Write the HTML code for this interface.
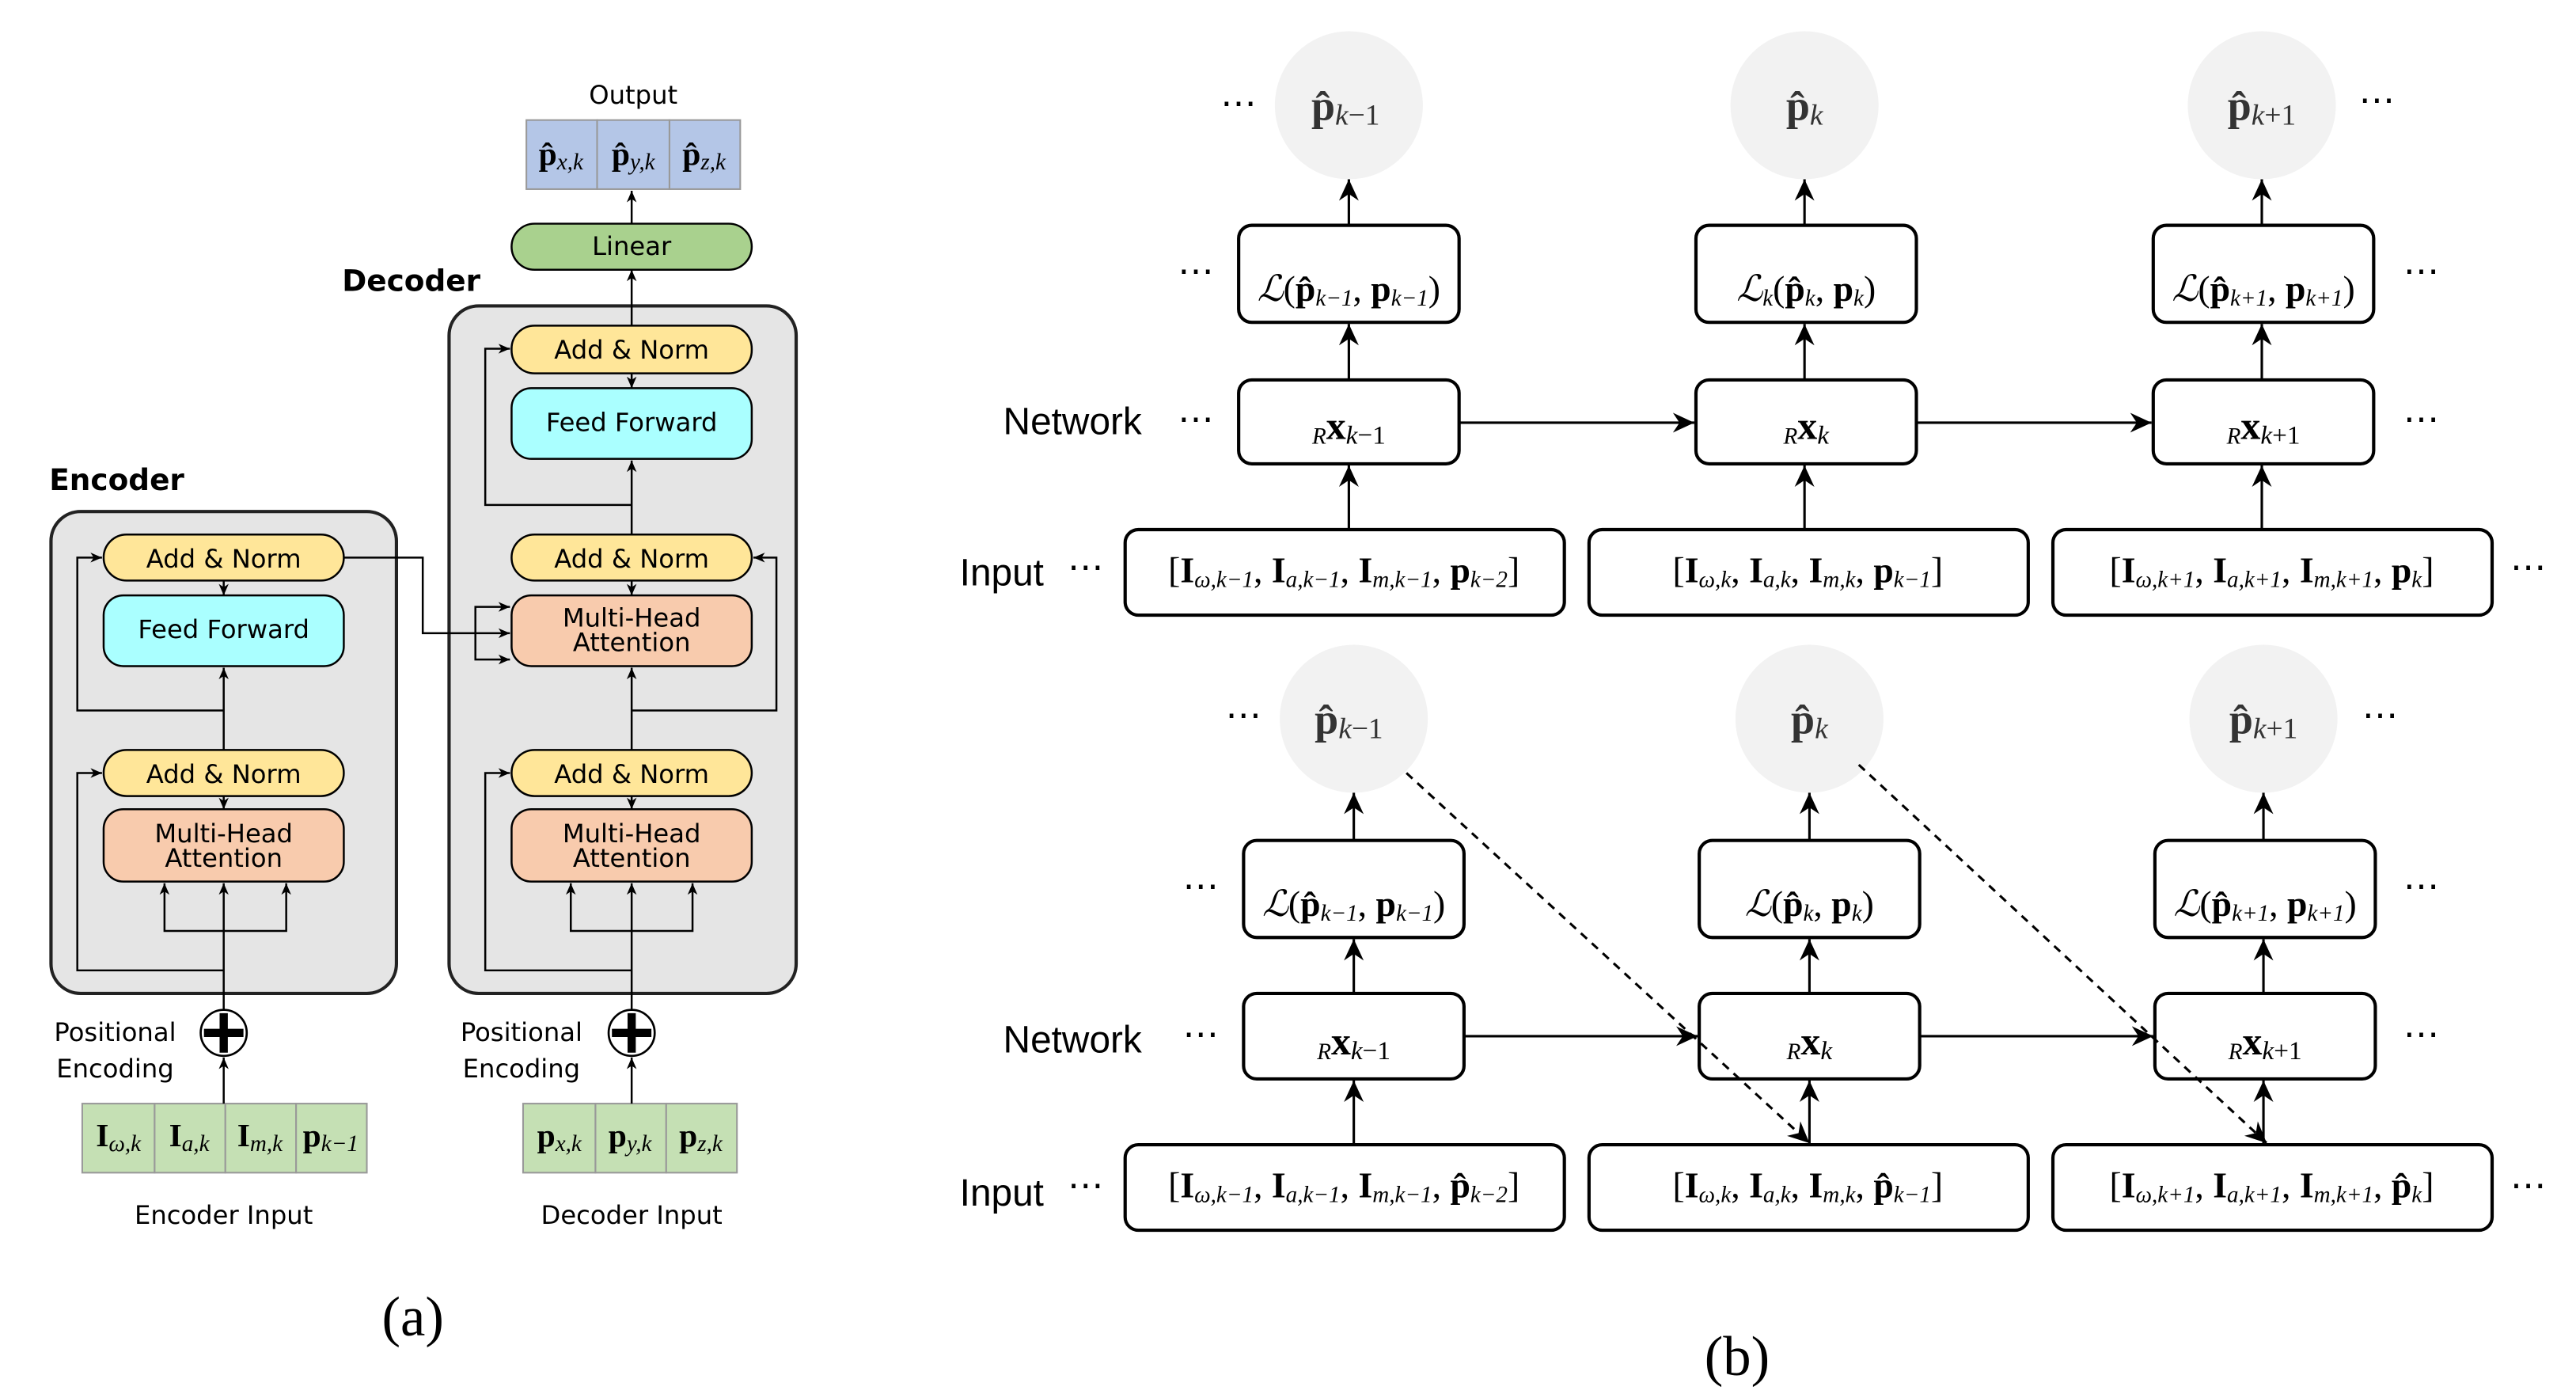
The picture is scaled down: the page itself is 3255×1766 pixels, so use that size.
<!DOCTYPE html>
<html><head><meta charset="utf-8"><style>
html,body{margin:0;padding:0;background:#fff}
svg{display:block}
.a{font-family:"DejaVu Sans",sans-serif;font-size:15.5px;text-anchor:middle}
.m{font-family:"Liberation Serif","DejaVu Serif",serif;text-anchor:middle}
.s{font-family:"Liberation Sans",sans-serif;font-size:23px;text-anchor:middle}
.b{font-size:14px;font-style:italic}
</style></head><body>
<svg width="3255" height="1766" viewBox="0 0 1566 850" preserveAspectRatio="none" xmlns="http://www.w3.org/2000/svg">
<defs>
<marker id="sa" markerWidth="8" markerHeight="8" refX="7" refY="4" orient="auto" markerUnits="userSpaceOnUse"><path d="M0,1 L7,4 L0,7 L2,4z" fill="#000"/></marker>
<marker id="ba" markerWidth="14" markerHeight="14" refX="13" refY="7" orient="auto" markerUnits="userSpaceOnUse"><path d="M0,1 L13,7 L0,13 L4,7z" fill="#000"/></marker>
</defs>
<g stroke="#000" stroke-width="1.3" fill="none">
<rect x="31" y="311" width="210" height="293" rx="18" fill="#e5e5e5" stroke="#222" stroke-width="2"/>
<rect x="273" y="186" width="211" height="418" rx="18" fill="#e5e5e5" stroke="#222" stroke-width="2"/>
</g>
<text x="71" y="298" font-family="DejaVu Sans,sans-serif" font-weight="bold" font-size="18" text-anchor="middle">Encoder</text>
<text x="250" y="177" font-family="DejaVu Sans,sans-serif" font-weight="bold" font-size="18" text-anchor="middle">Decoder</text>
<text x="385" y="63" class="a">Output</text>
<g stroke="#999" stroke-width="1" fill="#b4c6e7">
<rect x="320" y="73" width="43" height="42"/><rect x="363" y="73" width="44" height="42"/><rect x="407" y="73" width="43" height="42"/>
<rect x="50" y="671" width="44" height="42" fill="#c5e0b4"/><rect x="94" y="671" width="43" height="42" fill="#c5e0b4"/><rect x="137" y="671" width="43" height="42" fill="#c5e0b4"/><rect x="180" y="671" width="43" height="42" fill="#c5e0b4"/>
<rect x="318" y="671" width="44" height="42" fill="#c5e0b4"/><rect x="362" y="671" width="43" height="42" fill="#c5e0b4"/><rect x="405" y="671" width="43" height="42" fill="#c5e0b4"/>
</g>
<g class="m" font-size="20">
<text x="341" y="100"><tspan font-weight="bold">p̂</tspan><tspan class="b" baseline-shift="-3">x,k</tspan></text>
<text x="385" y="100"><tspan font-weight="bold">p̂</tspan><tspan class="b" baseline-shift="-3">y,k</tspan></text>
<text x="428" y="100"><tspan font-weight="bold">p̂</tspan><tspan class="b" baseline-shift="-3">z,k</tspan></text>
<text x="72" y="697"><tspan font-weight="bold">I</tspan><tspan class="b" baseline-shift="-3">ω,k</tspan></text>
<text x="115" y="697"><tspan font-weight="bold">I</tspan><tspan class="b" baseline-shift="-3">a,k</tspan></text>
<text x="158" y="697"><tspan font-weight="bold">I</tspan><tspan class="b" baseline-shift="-3">m,k</tspan></text>
<text x="201" y="697"><tspan font-weight="bold">p</tspan><tspan class="b" baseline-shift="-3">k−1</tspan></text>
<text x="340" y="697"><tspan font-weight="bold">p</tspan><tspan class="b" baseline-shift="-3">x,k</tspan></text>
<text x="383" y="697"><tspan font-weight="bold">p</tspan><tspan class="b" baseline-shift="-3">y,k</tspan></text>
<text x="426" y="697"><tspan font-weight="bold">p</tspan><tspan class="b" baseline-shift="-3">z,k</tspan></text>
</g>
<g stroke="#000" stroke-width="1.2">
<rect x="311" y="136" width="146" height="28" rx="14" fill="#a9d18e"/>
<rect x="311" y="198" width="146" height="29" rx="14" fill="#ffe699"/>
<rect x="311" y="236" width="146" height="43" rx="12" fill="#aaffff"/>
<rect x="311" y="325" width="146" height="28" rx="14" fill="#ffe699"/>
<rect x="311" y="362" width="146" height="43" rx="12" fill="#f8cbad"/>
<rect x="311" y="456" width="146" height="28" rx="14" fill="#ffe699"/>
<rect x="311" y="492" width="146" height="44" rx="12" fill="#f8cbad"/>
<rect x="63" y="325" width="146" height="28" rx="14" fill="#ffe699"/>
<rect x="63" y="362" width="146" height="43" rx="12" fill="#aaffff"/>
<rect x="63" y="456" width="146" height="28" rx="14" fill="#ffe699"/>
<rect x="63" y="492" width="146" height="44" rx="12" fill="#f8cbad"/>
</g>
<g class="a">
<text x="384" y="155">Linear</text>
<text x="384" y="218">Add &amp; Norm</text><text x="384" y="262">Feed Forward</text>
<text x="384" y="345">Add &amp; Norm</text><text x="384" y="381">Multi-Head</text><text x="384" y="396">Attention</text>
<text x="384" y="476">Add &amp; Norm</text><text x="384" y="512">Multi-Head</text><text x="384" y="527">Attention</text>
<text x="136" y="345">Add &amp; Norm</text><text x="136" y="388">Feed Forward</text>
<text x="136" y="476">Add &amp; Norm</text><text x="136" y="512">Multi-Head</text><text x="136" y="527">Attention</text>
<text x="70" y="633">Positional</text><text x="70" y="655">Encoding</text>
<text x="317" y="633">Positional</text><text x="317" y="655">Encoding</text>
<text x="136" y="744">Encoder Input</text><text x="384" y="744">Decoder Input</text>
</g>
<g stroke="#000" stroke-width="1.2" fill="none" marker-end="url(#sa)">
<path d="M384,136 V116"/>
<path d="M384,198 V164"/>
<path d="M384,227 V236"/>
<path d="M384,325 V280"/>
<path d="M384,307 H295 V212 H310"/>
<path d="M384,353 V362"/>
<path d="M384,456 V406"/>
<path d="M384,432 H472 V339 H458"/>
<path d="M209,339 H257 V385 H310"/>
<path d="M289,385 V369 H310"/>
<path d="M289,385 V401 H310"/>
<path d="M384,484 V492"/>
<path d="M384,614 V537"/>
<path d="M384,566 H347 V537"/>
<path d="M384,566 H421 V537"/>
<path d="M384,590 H295 V470 H310"/>
<path d="M384,671 V643"/>
<path d="M136,456 V406"/>
<path d="M136,432 H47 V339 H62"/>
<path d="M136,353 V362"/>
<path d="M136,484 V492"/>
<path d="M136,614 V537"/>
<path d="M136,566 H100 V537"/>
<path d="M136,566 H174 V537"/>
<path d="M136,590 H47 V470 H62"/>
<path d="M136,671 V643"/>
</g>
<g stroke="#000" fill="#fff" stroke-width="1.3">
<circle cx="136" cy="628" r="14"/><circle cx="384" cy="628" r="14"/>
</g>
<g stroke="#000" stroke-width="5">
<path d="M124,628 H148 M136,616 V640 M372,628 H396 M384,616 V640"/>
</g>
<text x="251" y="812" font-family="Liberation Serif,serif" font-size="34" text-anchor="middle">(a)</text>
<text x="1056" y="836" font-family="Liberation Serif,serif" font-size="34" text-anchor="middle">(b)</text>
<g fill="#f2f2f2">
<circle cx="820" cy="64" r="45"/><circle cx="1097" cy="64" r="45"/><circle cx="1375" cy="64" r="45"/>
<circle cx="823" cy="437" r="45"/><circle cx="1100" cy="437" r="45"/><circle cx="1376" cy="437" r="45"/>
</g>
<g stroke="#000" stroke-width="2" fill="#fff">
<rect x="753" y="137" width="134" height="59" rx="8"/><rect x="1031" y="137" width="134" height="59" rx="8"/><rect x="1309" y="137" width="134" height="59" rx="8"/>
<rect x="753" y="231" width="134" height="51" rx="8"/><rect x="1031" y="231" width="134" height="51" rx="8"/><rect x="1309" y="231" width="134" height="51" rx="8"/>
<rect x="684" y="322" width="267" height="52" rx="8"/><rect x="966" y="322" width="267" height="52" rx="8"/><rect x="1248" y="322" width="267" height="52" rx="8"/>
<rect x="756" y="511" width="134" height="59" rx="8"/><rect x="1033" y="511" width="134" height="59" rx="8"/><rect x="1310" y="511" width="134" height="59" rx="8"/>
<rect x="756" y="604" width="134" height="52" rx="8"/><rect x="1033" y="604" width="134" height="52" rx="8"/><rect x="1310" y="604" width="134" height="52" rx="8"/>
<rect x="684" y="696" width="267" height="52" rx="8"/><rect x="966" y="696" width="267" height="52" rx="8"/><rect x="1248" y="696" width="267" height="52" rx="8"/>
</g>
<g stroke="#000" stroke-width="1.5" fill="none" marker-end="url(#ba)">
<path d="M820,322 V283"/><path d="M820,231 V197"/><path d="M820,137 V109"/>
<path d="M1097,322 V283"/><path d="M1097,231 V197"/><path d="M1097,137 V109"/>
<path d="M1375,322 V283"/><path d="M1375,231 V197"/><path d="M1375,137 V109"/>
<path d="M887,257 H1030"/><path d="M1165,257 H1308"/>
<path d="M823,696 V657"/><path d="M823,604 V571"/><path d="M823,511 V482"/>
<path d="M1100,696 V657"/><path d="M1100,604 V571"/><path d="M1100,511 V482"/>
<path d="M1376,696 V657"/><path d="M1376,604 V571"/><path d="M1376,511 V482"/>
<path d="M890,630 H1032"/><path d="M1167,630 H1309"/>
<path d="M855,470 L1100,695" stroke-dasharray="5,4"/><path d="M1130,465 L1378,695" stroke-dasharray="5,4"/>
</g>
<g class="s">
<text x="652" y="264">Network</text><text x="609" y="356">Input</text>
<text x="652" y="640">Network</text><text x="609" y="733">Input</text>
</g>
<g font-family="Liberation Serif,serif" font-size="22" text-anchor="middle" fill="#000">
<text x="753" y="70">⋯</text><text x="1445" y="68">⋯</text>
<text x="727" y="172">⋯</text><text x="1472" y="172">⋯</text>
<text x="727" y="262">⋯</text><text x="1472" y="262">⋯</text>
<text x="660" y="352">⋯</text><text x="1537" y="352">⋯</text>
<text x="756" y="442">⋯</text><text x="1447" y="442">⋯</text>
<text x="730" y="546">⋯</text><text x="1472" y="546">⋯</text>
<text x="730" y="636">⋯</text><text x="1472" y="636">⋯</text>
<text x="660" y="728">⋯</text><text x="1537" y="728">⋯</text>
</g>
<g class="m" font-size="26" fill="#333">
<text x="818" y="73"><tspan font-weight="bold">p̂</tspan><tspan font-size="18" baseline-shift="-3"><tspan font-style="italic">k</tspan>−1</tspan></text>
<text x="1097" y="73"><tspan font-weight="bold">p̂</tspan><tspan font-size="18" font-style="italic" baseline-shift="-3">k</tspan></text>
<text x="1375" y="73"><tspan font-weight="bold">p̂</tspan><tspan font-size="18" baseline-shift="-3"><tspan font-style="italic">k</tspan>+1</tspan></text>
<text x="820" y="446"><tspan font-weight="bold">p̂</tspan><tspan font-size="18" baseline-shift="-3"><tspan font-style="italic">k</tspan>−1</tspan></text>
<text x="1100" y="446"><tspan font-weight="bold">p̂</tspan><tspan font-size="18" font-style="italic" baseline-shift="-3">k</tspan></text>
<text x="1376" y="446"><tspan font-weight="bold">p̂</tspan><tspan font-size="18" baseline-shift="-3"><tspan font-style="italic">k</tspan>+1</tspan></text>
</g>
<g class="m" font-size="22">
<text x="820" y="183"><tspan font-style="italic">ℒ</tspan>(<tspan font-weight="bold">p̂</tspan><tspan class="b" baseline-shift="-3">k−1</tspan>, <tspan font-weight="bold">p</tspan><tspan class="b" baseline-shift="-3">k−1</tspan>)</text>
<text x="1098" y="183"><tspan font-style="italic">ℒ</tspan><tspan class="b" baseline-shift="-3">k</tspan>(<tspan font-weight="bold">p̂</tspan><tspan class="b" baseline-shift="-3">k</tspan>, <tspan font-weight="bold">p</tspan><tspan class="b" baseline-shift="-3">k</tspan>)</text>
<text x="1376" y="183"><tspan font-style="italic">ℒ</tspan>(<tspan font-weight="bold">p̂</tspan><tspan class="b" baseline-shift="-3">k+1</tspan>, <tspan font-weight="bold">p</tspan><tspan class="b" baseline-shift="-3">k+1</tspan>)</text>
<text x="823" y="557"><tspan font-style="italic">ℒ</tspan>(<tspan font-weight="bold">p̂</tspan><tspan class="b" baseline-shift="-3">k−1</tspan>, <tspan font-weight="bold">p</tspan><tspan class="b" baseline-shift="-3">k−1</tspan>)</text>
<text x="1100" y="557"><tspan font-style="italic">ℒ</tspan>(<tspan font-weight="bold">p̂</tspan><tspan class="b" baseline-shift="-3">k</tspan>, <tspan font-weight="bold">p</tspan><tspan class="b" baseline-shift="-3">k</tspan>)</text>
<text x="1377" y="557"><tspan font-style="italic">ℒ</tspan>(<tspan font-weight="bold">p̂</tspan><tspan class="b" baseline-shift="-3">k+1</tspan>, <tspan font-weight="bold">p</tspan><tspan class="b" baseline-shift="-3">k+1</tspan>)</text>
<text x="820" y="267" font-size="24"><tspan class="b" baseline-shift="-3">R</tspan><tspan font-weight="bold">x</tspan><tspan font-size="16" baseline-shift="-3"><tspan font-style="italic">k</tspan>−1</tspan></text>
<text x="1098" y="267" font-size="24"><tspan class="b" baseline-shift="-3">R</tspan><tspan font-weight="bold">x</tspan><tspan font-size="16" font-style="italic" baseline-shift="-3">k</tspan></text>
<text x="1376" y="267" font-size="24"><tspan class="b" baseline-shift="-3">R</tspan><tspan font-weight="bold">x</tspan><tspan font-size="16" baseline-shift="-3"><tspan font-style="italic">k</tspan>+1</tspan></text>
<text x="823" y="641" font-size="24"><tspan class="b" baseline-shift="-3">R</tspan><tspan font-weight="bold">x</tspan><tspan font-size="16" baseline-shift="-3"><tspan font-style="italic">k</tspan>−1</tspan></text>
<text x="1100" y="641" font-size="24"><tspan class="b" baseline-shift="-3">R</tspan><tspan font-weight="bold">x</tspan><tspan font-size="16" font-style="italic" baseline-shift="-3">k</tspan></text>
<text x="1377" y="641" font-size="24"><tspan class="b" baseline-shift="-3">R</tspan><tspan font-weight="bold">x</tspan><tspan font-size="16" baseline-shift="-3"><tspan font-style="italic">k</tspan>+1</tspan></text>
<text x="817" y="354">[<tspan font-weight="bold">I</tspan><tspan class="b" baseline-shift="-3">ω,k−1</tspan>, <tspan font-weight="bold">I</tspan><tspan class="b" baseline-shift="-3">a,k−1</tspan>, <tspan font-weight="bold">I</tspan><tspan class="b" baseline-shift="-3">m,k−1</tspan>, <tspan font-weight="bold">p</tspan><tspan class="b" baseline-shift="-3">k−2</tspan>]</text>
<text x="1099" y="354">[<tspan font-weight="bold">I</tspan><tspan class="b" baseline-shift="-3">ω,k</tspan>, <tspan font-weight="bold">I</tspan><tspan class="b" baseline-shift="-3">a,k</tspan>, <tspan font-weight="bold">I</tspan><tspan class="b" baseline-shift="-3">m,k</tspan>, <tspan font-weight="bold">p</tspan><tspan class="b" baseline-shift="-3">k−1</tspan>]</text>
<text x="1381" y="354">[<tspan font-weight="bold">I</tspan><tspan class="b" baseline-shift="-3">ω,k+1</tspan>, <tspan font-weight="bold">I</tspan><tspan class="b" baseline-shift="-3">a,k+1</tspan>, <tspan font-weight="bold">I</tspan><tspan class="b" baseline-shift="-3">m,k+1</tspan>, <tspan font-weight="bold">p</tspan><tspan class="b" baseline-shift="-3">k</tspan>]</text>
<text x="817" y="728">[<tspan font-weight="bold">I</tspan><tspan class="b" baseline-shift="-3">ω,k−1</tspan>, <tspan font-weight="bold">I</tspan><tspan class="b" baseline-shift="-3">a,k−1</tspan>, <tspan font-weight="bold">I</tspan><tspan class="b" baseline-shift="-3">m,k−1</tspan>, <tspan font-weight="bold">p̂</tspan><tspan class="b" baseline-shift="-3">k−2</tspan>]</text>
<text x="1099" y="728">[<tspan font-weight="bold">I</tspan><tspan class="b" baseline-shift="-3">ω,k</tspan>, <tspan font-weight="bold">I</tspan><tspan class="b" baseline-shift="-3">a,k</tspan>, <tspan font-weight="bold">I</tspan><tspan class="b" baseline-shift="-3">m,k</tspan>, <tspan font-weight="bold">p̂</tspan><tspan class="b" baseline-shift="-3">k−1</tspan>]</text>
<text x="1381" y="728">[<tspan font-weight="bold">I</tspan><tspan class="b" baseline-shift="-3">ω,k+1</tspan>, <tspan font-weight="bold">I</tspan><tspan class="b" baseline-shift="-3">a,k+1</tspan>, <tspan font-weight="bold">I</tspan><tspan class="b" baseline-shift="-3">m,k+1</tspan>, <tspan font-weight="bold">p̂</tspan><tspan class="b" baseline-shift="-3">k</tspan>]</text>
</g>
</svg>
</body></html>
